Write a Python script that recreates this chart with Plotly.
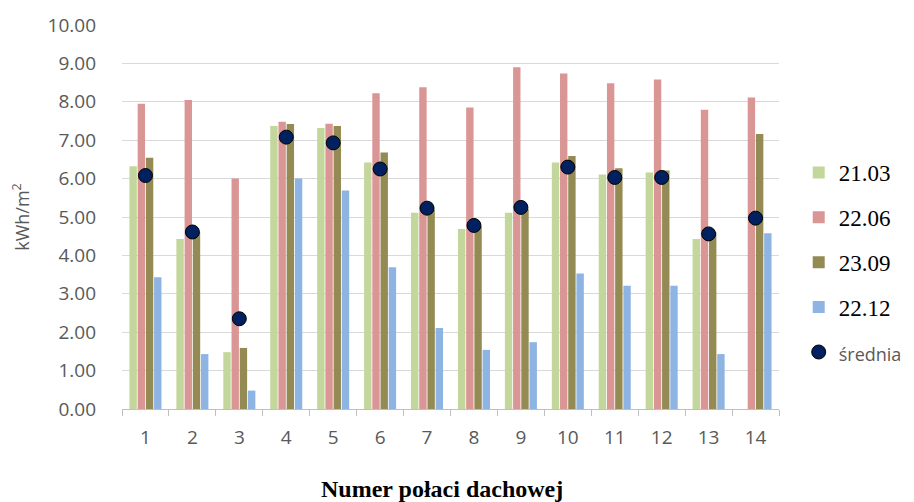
import plotly.graph_objects as go

categories = [str(i) for i in range(1, 15)]
s_2103 = [6.32, 4.43, 1.48, 7.37, 7.32, 6.42, 5.11, 4.69, 5.11, 6.42, 6.11, 6.16, 4.43, 0.0]
s_2206 = [7.95, 8.05, 6.00, 7.48, 7.43, 8.22, 8.38, 7.85, 8.90, 8.74, 8.48, 8.58, 7.79, 8.11]
s_2309 = [6.54, 4.60, 1.59, 7.42, 7.37, 6.68, 5.19, 4.75, 5.21, 6.59, 6.27, 6.21, 4.60, 7.16]
s_2212 = [3.43, 1.43, 0.48, 6.00, 5.69, 3.69, 2.11, 1.54, 1.74, 3.53, 3.21, 3.21, 1.43, 4.58]
srednia = [6.08, 4.61, 2.35, 7.08, 6.93, 6.25, 5.23, 4.78, 5.25, 6.30, 6.03, 6.03, 4.56, 4.97]
y_ticks = [0, 1, 2, 3, 4, 5, 6, 7, 8, 9, 10]

series = [("21.03", s_2103, "#c3d69b"), ("22.06", s_2206, "#d99694"),
          ("23.09", s_2309, "#948a54"), ("22.12", s_2212, "#8eb4e3")]

fig = go.Figure()
for name, vals, col in series:
    fig.add_trace(go.Bar(x=categories, y=vals, name=name, marker_color=col,
                         legendgroup=name, marker_line_width=0))
fig.add_trace(go.Scatter(x=categories, y=srednia, mode="markers",
                         name='<span style="font-family:Open Sans;font-size:18px;color:#595959">średnia</span>',
                         legendgroup="sr",
                         marker=dict(size=14, color="#002060", line=dict(color="#000000", width=1))))

fig.update_layout(
    width=914, height=502,
    margin=dict(l=122, r=135, t=25, b=93, autoexpand=False),
    paper_bgcolor="white", plot_bgcolor="white",
    barmode="group", bargap=0.3, bargroupgap=0.1,
    font=dict(family="Open Sans", color="#595959"),
    legend=dict(x=1.03, xanchor="left", y=0.672, yanchor="top",
                font=dict(family="Liberation Serif", size=23, color="#000000"),
                tracegroupgap=12, traceorder="grouped"),
    xaxis=dict(range=[-0.5, 13.5], showgrid=False, showline=True, linecolor="#bfbfbf",
               linewidth=1, automargin=False,
               ticks="outside", tickson="boundaries", ticklen=6, tickcolor="#bfbfbf",
               tickfont=dict(size=19, color="#595959"), ticklabelstandoff=11),
    yaxis=dict(range=[0, 10], tickvals=y_ticks, tickformat=".2f", automargin=False,
               showgrid=True, gridcolor="#d9d9d9", gridwidth=1, zeroline=False,
               tickfont=dict(size=19, color="#595959"), ticks="", ticklabelstandoff=25,
               title=dict(text="kWh/m<sup>2</sup>", font=dict(size=18, color="#595959"),
                          standoff=13)),
    annotations=[dict(text="<b>Numer połaci dachowej</b>", xref="paper", yref="paper",
                      x=0.487, y=-0.208, xanchor="center", yanchor="middle", showarrow=False,
                      font=dict(family="Liberation Serif", size=24, color="#000000"))],
)

fig.write_html("out.html", config={"displayModeBar": False},
               post_script="document.body.style.margin='0';document.body.style.overflow='hidden';")
